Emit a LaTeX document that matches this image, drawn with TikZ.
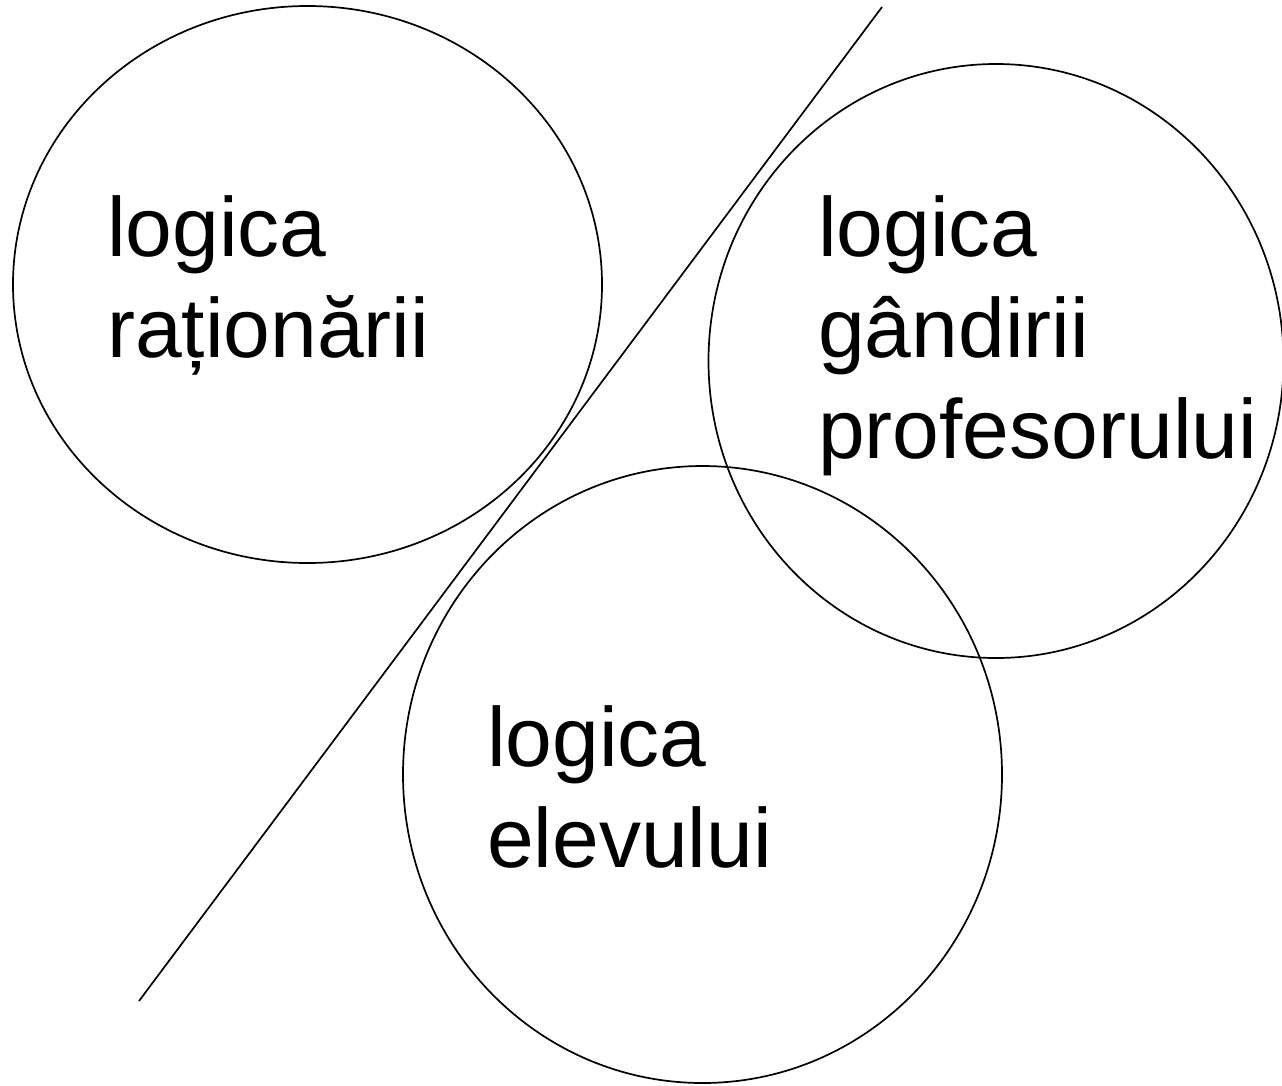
\documentclass[tikz,border=0pt]{standalone}
\usepackage{fontspec}
\setmainfont{Liberation Sans}
\usetikzlibrary{shapes.geometric}
\begin{document}
\begin{tikzpicture}[x=1pt,y=-1pt,
  ring/.style={draw=black,line width=1.7pt,ellipse,inner sep=0pt},
  lbl/.style={inner sep=0pt,anchor=base west,align=left,font=\fontsize{84}{101}\selectfont}]
\useasboundingbox (0,0) rectangle (1282,1085);
\node[ring,minimum width=589pt,minimum height=557pt] (c1) at (307.5,284.5) {};
\node[ring,minimum width=575pt,minimum height=594pt] (c2) at (996,361) {};
\node[ring,minimum width=599pt,minimum height=617pt] (c3) at (702.5,774.5) {};
\coordinate (ltop) at (882,7);
\coordinate (lbot) at (139,1001);
\draw[line width=1.7pt] (ltop) -- (lbot);
\node[lbl] (t1) at (107,357) {logica\\raționării};
\node[lbl] (t2) at (818,458) {logica\\gândirii\\profesorului};
\node[lbl] (t3) at (487,867) {logica\\elevului};
\end{tikzpicture}
\end{document}
